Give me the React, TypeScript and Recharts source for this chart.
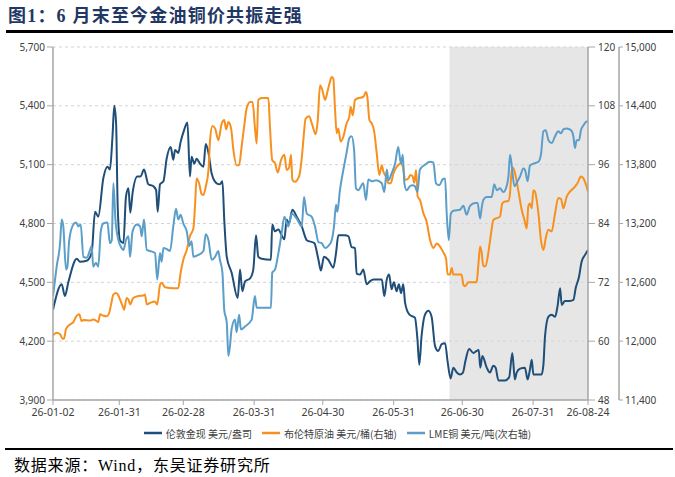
import React from "react";
import {
  CartesianGrid,
  Legend,
  Line,
  LineChart,
  ReferenceArea,
  XAxis,
  YAxis,
} from "recharts";

// x = day offset from 2026-01-02, y = price
const goldSeries: [number, number][] = [
  [0, 4360], [3.8, 4490], [5.2, 4430], [6.7, 4500], [10.4, 4620], [11.8, 4605], [14.7, 4610], [16.9, 4650],
  [18.4, 4860], [19.8, 4835], [22, 5030], [23.8, 5090], [24.9, 5075], [26, 5240], [26.8, 5400], [27.6, 5310],
  [28.3, 4885], [29.3, 4715], [30.8, 4700], [31.9, 4935], [33, 4980], [33.8, 4855], [34.8, 4955], [36.9, 5040],
  [38.3, 5040], [39.8, 5075], [41.7, 5000], [43.9, 4990], [45.1, 4970], [45.8, 4860], [46.8, 5000], [48.3, 5015],
  [49.7, 5130], [51.5, 5190], [52.6, 5125], [53.4, 5175], [54.8, 5160], [55.8, 5215], [57.3, 5275], [58.8, 5315],
  [59.9, 5040], [60.6, 5140], [61.8, 5105], [62.8, 5130], [64.3, 5105], [65.8, 5090], [66.8, 5205], [68, 5160],
  [69.4, 5055], [71.6, 5005], [73, 5000], [74.1, 5015], [74.9, 4820], [76, 4630], [78.1, 4550], [80.8, 4420],
  [81.8, 4565], [82.8, 4455], [84, 4505], [86.2, 4520], [87.6, 4565], [88.8, 4740], [89.8, 4630], [91.3, 4620],
  [95.3, 4615], [95.9, 4795], [97.1, 4760], [98.6, 4770], [100, 4740], [101.2, 4720], [102.2, 4820], [103.2, 4800],
  [104.7, 4870], [106.6, 4835], [108.8, 4785], [111, 4715], [114.3, 4700], [116.1, 4615], [117.2, 4560], [118.5, 4630],
  [120.4, 4615], [122.6, 4575], [123.8, 4650], [124.8, 4740], [127.7, 4740], [129.2, 4735], [130.6, 4680], [132.1, 4675],
  [132.8, 4545], [134.3, 4540], [135.7, 4565], [137.2, 4490], [138.6, 4505], [140.1, 4515], [143.8, 4515], [144.9, 4430],
  [146, 4515], [147, 4540], [148.1, 4465], [149.1, 4500], [150.3, 4455], [151.3, 4490], [152.2, 4445], [153.2, 4490],
  [154, 4395], [155.9, 4335], [158.3, 4320], [159.4, 4210], [160.2, 4080], [161.2, 4225], [162.7, 4335], [164.2, 4355],
  [165.6, 4325], [167.1, 4175], [168.5, 4150], [170, 4185], [171.5, 4190], [172.5, 4105], [173.9, 4010], [175.1, 4065],
  [176.6, 4040], [178, 4030], [179.3, 4040], [180.4, 4100], [182, 4160], [183.9, 4140], [185.3, 4150], [186.2, 4155],
  [186.9, 4065], [187.8, 4125], [189.7, 4065], [191.1, 4040], [192.6, 4075], [193.6, 4065], [194.8, 4000], [197.7, 4000],
  [199.5, 4015], [200.9, 4140], [202, 4005], [202.8, 4040], [204.3, 4060], [206.4, 4065], [207.6, 4005], [208.6, 4055],
  [209.4, 4105], [210.1, 4030], [213.7, 4030], [214.5, 4080], [215.2, 4225], [216.7, 4325], [218.1, 4335], [219.6, 4325],
  [220.7, 4380], [221.8, 4470], [222.5, 4385], [223.9, 4405], [226.1, 4405], [227.6, 4410], [228.6, 4470], [230.1, 4530],
  [231.2, 4605], [232.7, 4640], [234, 4665],
];

const oilSeries: [number, number][] = [
  [0, 61.2], [1.6, 61.7], [3.1, 61.4], [4.2, 60.5], [4.8, 60.5], [5.7, 62.5], [7.4, 63.4], [8.9, 63.9],
  [10.4, 65.2], [11.5, 65.5], [12.5, 64.1], [13.3, 64.3], [16.2, 64.2], [17.6, 64.4], [19.1, 64.1], [19.8, 63.9],
  [20.6, 65.5], [22, 65.2], [23.5, 65.1], [24.6, 65.8], [25.4, 67.5], [26.4, 69.5], [27.6, 69.8], [28.6, 69.3],
  [29.3, 68.5], [30.5, 67.1], [31.1, 66.4], [32.2, 68.8], [33, 68.5], [33.7, 67.5], [35.1, 68.8], [37.3, 69.2],
  [39.5, 69.3], [40.2, 69.5], [41, 67.5], [42.4, 67.8], [44.6, 68.1], [45.6, 67.5], [46.8, 71.5], [47.5, 71.9],
  [49, 71], [52.6, 70.8], [54.8, 70.8], [55.8, 73.9], [57, 76.6], [58.5, 78.6], [59.9, 81.4], [61.4, 83],
  [62.1, 87.5], [62.8, 93.2], [63.9, 92.2], [65, 90], [65.8, 89.8], [66.8, 91.5], [68, 94.9], [68.7, 101],
  [69.7, 103.9], [70.9, 103.4], [72.3, 101], [73.8, 104.4], [74.9, 105.1], [75.7, 103.2], [76.7, 104.7], [77.9, 103.4],
  [78.9, 99], [80.3, 95.9], [81.4, 95.9], [82.5, 99.7], [83.7, 104.1], [84.7, 107.5], [86.2, 108.8], [87.3, 108.8],
  [88.3, 103.7], [89.1, 100.3], [89.8, 109.2], [91.3, 109.6], [94.2, 109.6], [94.9, 103.7], [95.9, 96.9], [97.1, 96.3],
  [98.3, 94.4], [99.7, 96.9], [101.2, 98], [102.2, 94.9], [103.2, 95.3], [104.1, 98], [104.7, 92.9], [105.8, 92.5],
  [107.6, 93.6], [108.8, 97.3], [109.5, 101], [110.5, 105.4], [112, 105.9], [113.4, 104.1], [114.9, 102.2], [115.8, 105.1],
  [116.8, 112.2], [117.8, 111.2], [119, 109.2], [120, 110.8], [120.9, 112.5], [121.9, 113.9], [122.6, 113.6], [123.3, 107.8],
  [124.1, 102.4], [124.8, 103.4], [125.8, 100.7], [127, 101.7], [128.4, 104.4], [129.6, 105.8], [130.2, 107.8], [131.1, 106.1],
  [132.1, 109.2], [133.1, 109.5], [135.7, 109.8], [136.9, 110.8], [137.5, 109.8], [138.4, 105.1], [139.4, 104.4], [140.4, 103],
  [141.6, 98.3], [142.7, 93.9], [143.8, 95.9], [144.5, 94.6], [145.6, 93.6], [146.7, 92.2], [147.7, 92.2], [148.9, 94.2],
  [150, 95.3], [151, 95.9], [152.1, 96.3], [153, 95.6], [154, 92.9], [155.4, 93.2], [156.4, 93.9], [157.3, 93.6],
  [158, 92.3], [158.8, 94.9], [159.5, 89.5], [160.5, 88.8], [162, 86.1], [163.4, 84.4], [164.9, 80.7], [166.4, 79],
  [167.8, 79.9], [169.3, 79.3], [170.7, 78.1], [171.9, 76.9], [172.6, 73.6], [173.6, 73.6], [174.4, 74.9], [175.1, 73.6],
  [178.7, 73.6], [179.5, 71.5], [180.2, 71.2], [181.7, 72], [185.3, 72], [186, 75.3], [186.8, 79.3], [187.5, 78],
  [188.2, 75.3], [189.2, 75.3], [190.4, 78], [191.6, 82], [192.6, 84.7], [194.1, 85.1], [195.5, 85.4], [196.5, 88.1],
  [197.7, 88.5], [199.2, 88.6], [199.9, 90.2], [200.6, 94.6], [201.3, 95.3], [202.1, 94.2], [203.5, 90.8], [205, 86.8],
  [206.2, 84.7], [207.2, 83], [207.9, 87.5], [208.6, 88.1], [209.4, 87.1], [210.1, 90.8], [210.8, 90.5], [212.3, 86.1],
  [213.4, 80.7], [214.5, 78.6], [215.5, 81], [216.7, 82.7], [218.1, 82.4], [219.6, 86.1], [221, 89.2], [222.2, 89],
  [223.2, 87.1], [224.7, 89.5], [226.1, 90.5], [228.3, 91.5], [229.5, 92.3], [230.9, 93.6], [232, 93.2], [233.4, 91.5],
  [234, 90.5],
];

const copperSeries: [number, number][] = [
  [0, 12460], [1.6, 12760], [3.1, 13000], [3.8, 13240], [4.5, 13170], [5.7, 12730], [6.3, 12760], [7.1, 13030],
  [8.9, 13190], [10.1, 13210], [11.1, 13170], [12.1, 13190], [13.3, 12860], [14.7, 12850], [16.2, 12930], [16.9, 12970],
  [17.6, 12760], [18.8, 12800], [19.8, 12760], [20.9, 13120], [22, 13200], [23.8, 13210], [24.9, 13000], [25.7, 13030],
  [26.4, 13610], [27.3, 13240], [28.6, 13030], [30, 12950], [30.8, 12930], [31.9, 13030], [33, 13070], [33.7, 12860],
  [34.8, 13120], [36.6, 13190], [38.1, 13170], [38.8, 13070], [39.8, 13240], [41, 12930], [42.4, 12920], [44.6, 12900],
  [45.6, 12630], [46.8, 12900], [47.5, 12810], [48.3, 12950], [49.7, 12940], [51.2, 12920], [52.6, 13170], [53.8, 13350],
  [54.8, 13240], [55.8, 13290], [57, 13200], [58.5, 13120], [59.6, 12970], [60.6, 13020], [61.4, 12860], [63.6, 12880],
  [65.8, 12920], [66.8, 13090], [68, 13030], [69.4, 12830], [70.9, 12860], [72.3, 12920], [73, 12830], [74.1, 12700],
  [74.9, 12320], [76, 12190], [76.7, 11850], [77.4, 11950], [78.1, 12120], [79.6, 12220], [80.3, 12090], [81.4, 12270],
  [82.2, 12120], [84, 12150], [86.9, 12220], [88.3, 12460], [89.1, 12340], [90.5, 12340], [95.3, 12340], [95.9, 12700],
  [97.1, 12730], [98.6, 12900], [100, 13100], [101.2, 13270], [102.9, 13170], [104.4, 13300], [106.6, 13250], [108.8, 13170],
  [109.8, 13470], [111, 13300], [113.1, 13270], [114.6, 13170], [116.1, 13010], [117.5, 13000], [119, 12950], [120.4, 12970],
  [121.9, 13030], [122.9, 13170], [123.8, 13390], [124.4, 13320], [125.5, 13540], [126.7, 13710], [128.4, 13920], [129.6, 14070],
  [130.6, 14090], [131.7, 13950], [132.5, 13560], [133.5, 13540], [135.7, 13610], [136.9, 13440], [137.9, 13650], [139.4, 13630],
  [141.3, 13640], [143.8, 13610], [144.9, 13520], [146, 13750], [146.7, 13640], [148.1, 13710], [149.6, 13810], [151, 13980],
  [152.2, 13810], [153, 13900], [153.7, 13610], [154.7, 13540], [156.1, 13580], [157.3, 13590], [158.3, 13580], [159.4, 13520],
  [160.5, 13750], [162.7, 13800], [164.9, 13830], [166.4, 13820], [167.5, 13610], [169, 13590], [170.4, 13650], [171.5, 13660],
  [172.2, 13300], [173.1, 13030], [174, 13300], [175.1, 13330], [178, 13340], [179.5, 13380], [180.9, 13290], [182.4, 13380],
  [184.6, 13410], [185.7, 13410], [186.8, 13250], [187.5, 13360], [188.2, 13440], [189.7, 13470], [191.9, 13470], [193, 13600],
  [194.1, 13540], [195.5, 13560], [197, 13520], [198.4, 13580], [199.2, 13680], [199.9, 13900], [200.6, 13800], [201.8, 13580],
  [203.2, 13630], [204.3, 13680], [205.7, 13760], [206.4, 13750], [207.6, 13630], [208.6, 13790], [210.1, 13810], [212.3, 13830],
  [213.4, 13900], [214.5, 14140], [215.5, 14150], [216.7, 14050], [218.1, 14020], [219.6, 14090], [221, 14140], [222.2, 14120],
  [223.2, 14160], [224.7, 14170], [226.6, 14150], [227.6, 14090], [228.3, 13970], [229, 14050], [230.1, 14050], [230.9, 14150],
  [232, 14200], [233.4, 14240], [234, 14240],
];

const xTickDays = [0, 29, 57, 88, 118, 149, 179, 210, 234];
const xTickLabels = ["26-01-02", "26-01-31", "26-02-28", "26-03-31", "26-04-30", "26-05-31", "26-06-30", "26-07-31", "26-08-24"];
const goldTicks = [3900, 4200, 4500, 4800, 5100, 5400, 5700];
const oilTicks = [48, 60, 72, 84, 96, 108, 120];
const copperTicks = [11400, 12000, 12600, 13200, 13800, 14400, 15000];
const shadeFrom = 173.4; // 6月末起
const shadeTo = 234;

const legendItems = [
  { name: "伦敦金现 美元/盎司", color: "#1f4e79" },
  { name: "布伦特原油 美元/桶(右轴)", color: "#f7901e" },
  { name: "LME铜 美元/吨(次右轴)", color: "#5b9ec9" },
];

const toRows = (s: [number, number][]) => s.map(([d, v]) => ({ d, v }));

const tickFont = { fontSize: 10, fill: "#404040", fontFamily: "'Noto Sans', 'Noto Sans CJK SC', sans-serif" };
const axisLine = { stroke: "#a6a6a6", strokeWidth: 1.5 };
const fmt = (v: number) => v.toLocaleString("en-US");

function LegendRow() {
  return (
    <div
      style={{
        display: "flex",
        justifyContent: "center",
        alignItems: "center",
        height: 24,
        gap: 10,
        fontSize: 10,
        color: "#404040",
        fontFamily: "'Noto Sans CJK SC', 'Noto Sans', sans-serif",
      }}
    >
      {legendItems.map((it) => (
        <div key={it.name} style={{ display: "flex", alignItems: "center" }}>
          <svg width={18} height={4} style={{ marginRight: 4 }}>
            <line x1={0} y1={2} x2={18} y2={2} stroke={it.color} strokeWidth={2.5} />
          </svg>
          <span>{it.name}</span>
        </div>
      ))}
    </div>
  );
}

export default function App() {
  return (
    <div style={{ position: "absolute", left: 0, top: 0, width: 675, height: 477, background: "#fff", overflow: "hidden" }}>
      <LineChart width={675} height={445} margin={{ top: 47, right: 0, left: 0, bottom: 0 }} style={{ position: "absolute", left: 0, top: 0 }}>
        <CartesianGrid vertical={false} yAxisId="left" strokeDasharray="3 3" stroke="#d3d3d3" />
        <ReferenceArea x1={shadeFrom} x2={shadeTo} yAxisId="left" fill="#d6d6d6" fillOpacity={0.62} stroke="none" />
        <XAxis
          dataKey="d"
          type="number"
          domain={[0, 234]}
          ticks={xTickDays}
          tickFormatter={(v: number) => xTickLabels[xTickDays.indexOf(v)] ?? ""}
          interval={0}
          height={21}
          tickSize={5}
          tickMargin={4}
          axisLine={axisLine}
          tickLine={{ stroke: "#a6a6a6" }}
          tick={{ ...tickFont, fontSize: 10.5 }}
          allowDataOverflow
        />
        <YAxis
          yAxisId="left"
          domain={[3900, 5700]}
          ticks={goldTicks}
          width={53}
          tickSize={6}
          tickMargin={2}
          tickFormatter={fmt}
          axisLine={axisLine}
          tickLine={{ stroke: "#a6a6a6" }}
          tick={tickFont}
          interval={0}
        />
        <YAxis
          yAxisId="r1"
          orientation="right"
          domain={[48, 120]}
          ticks={oilTicks}
          width={31}
          tickSize={7}
          tickMargin={3}
          axisLine={axisLine}
          tickLine={{ stroke: "#a6a6a6" }}
          tick={tickFont}
          interval={0}
        />
        <YAxis
          yAxisId="r2"
          orientation="right"
          domain={[11400, 15000]}
          ticks={copperTicks}
          width={56}
          tickSize={4}
          tickMargin={2}
          tickFormatter={fmt}
          axisLine={axisLine}
          tickLine={{ stroke: "#a6a6a6" }}
          tick={tickFont}
          interval={0}
        />
        <Line yAxisId="left" data={toRows(goldSeries)} dataKey="v" name="伦敦金现 美元/盎司" type="monotone" stroke="#1f4e79" strokeWidth={2} dot={false} isAnimationActive={false} />
        <Line yAxisId="r1" data={toRows(oilSeries)} dataKey="v" name="布伦特原油 美元/桶(右轴)" type="monotone" stroke="#f7901e" strokeWidth={2} dot={false} isAnimationActive={false} />
        <Line yAxisId="r2" data={toRows(copperSeries)} dataKey="v" name="LME铜 美元/吨(次右轴)" type="monotone" stroke="#5b9ec9" strokeWidth={2} dot={false} isAnimationActive={false} />
        <Legend verticalAlign="bottom" height={24} content={() => <LegendRow />} />
      </LineChart>

      <div
        style={{
          position: "absolute",
          left: 8,
          top: 5,
          fontSize: 18,
          lineHeight: "22px",
          letterSpacing: 1.2,
          fontWeight: 700,
          color: "#1f3864",
          fontFamily: "'Liberation Serif', 'Noto Sans CJK SC', serif",
          whiteSpace: "nowrap",
        }}
      >
        图1：6 月末至今金油铜价共振走强
      </div>
      <div style={{ position: "absolute", left: 6, top: 30, width: 667, height: 2.5, background: "#000" }} />
      <div style={{ position: "absolute", left: 5, top: 448, width: 668, height: 1.5, background: "#000" }} />
      <div
        style={{
          position: "absolute",
          left: 14,
          top: 456,
          fontSize: 16,
          lineHeight: "20px",
          letterSpacing: 0.8,
          color: "#000",
          fontFamily: "'Liberation Serif', 'Noto Sans CJK SC', serif",
          whiteSpace: "nowrap",
        }}
      >
        数据来源：Wind，东吴证券研究所
      </div>
    </div>
  );
}
